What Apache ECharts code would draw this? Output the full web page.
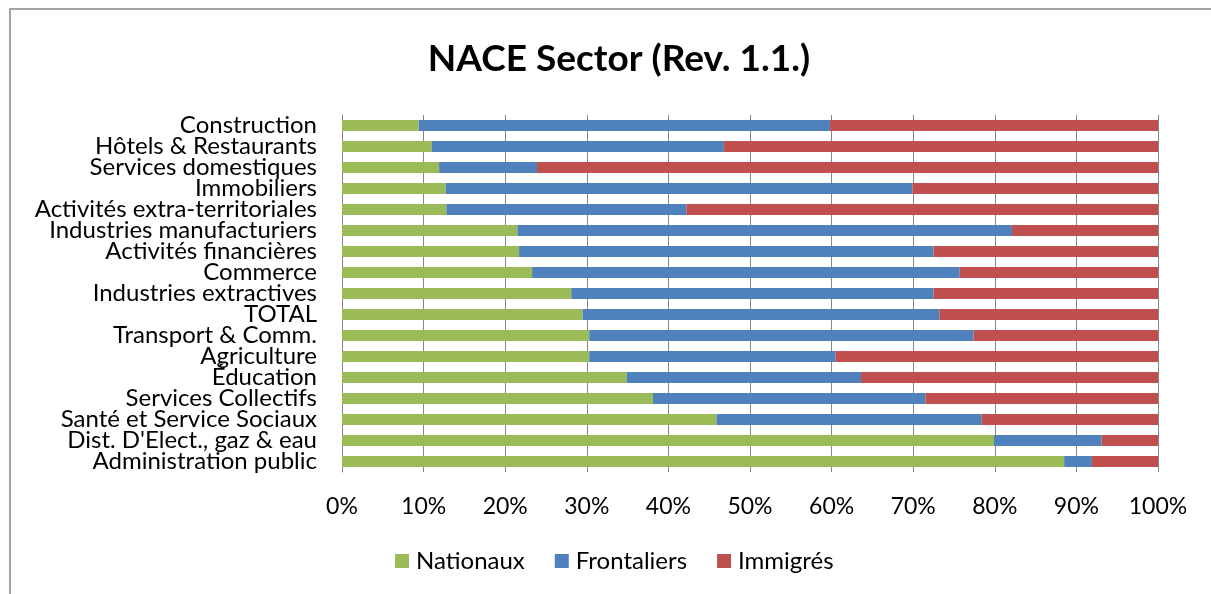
<!DOCTYPE html>
<html>
<head>
<meta charset="utf-8">
<script src="https://cdn.jsdelivr.net/npm/echarts@6/dist/echarts.min.js"></script>
<style>
  html, body { margin: 0; padding: 0; background: #fff; }
  #chart { width: 1211px; height: 594px; }
</style>
</head>
<body>
<div id="chart"></div>
<script>
// sectors, top to bottom
const sectors = [
  'Construction', 'Hôtels & Restaurants', 'Services domestiques', 'Immobiliers',
  'Activités extra-territoriales', 'Industries manufacturiers', 'Activités financières',
  'Commerce', 'Industries extractives', 'TOTAL', 'Transport & Comm.', 'Agriculture',
  'Éducation', 'Services Collectifs', 'Santé et Service Sociaux',
  'Dist. D\'Elect., gaz & eau', 'Administration public'
]
// shares in %
const nationaux = [9.4, 11.0, 11.9, 12.7, 12.8, 21.5, 21.7, 23.3, 28.1, 29.5, 30.3, 30.3, 34.9, 38.1, 45.9, 79.9, 88.5]
const frontaliers = [50.4, 35.8, 12.0, 57.2, 29.4, 60.6, 50.8, 52.4, 44.4, 43.7, 47.1, 30.2, 28.7, 33.4, 32.5, 13.2, 3.4]
const immigres = [40.2, 53.2, 76.1, 30.1, 57.8, 17.9, 27.5, 24.3, 27.5, 26.8, 22.6, 39.5, 36.4, 28.5, 21.6, 6.9, 8.1]

const FONT = 'Lato'
const GREY = '#868686'

const chart = echarts.init(document.getElementById('chart'))

const bar = (name, data, color) => ({
  name: name,
  type: 'bar',
  stack: 'share',
  data: data,
  barCategoryGap: '48%',
  itemStyle: { color: color },
  emphasis: { disabled: true }
})

const option = {
  animation: false,
  textStyle: { fontFamily: FONT },
  title: {
    text: 'NACE Sector (Rev. 1.1.)',
    left: 614,
    textAlign: 'center',
    top: 36,
    textStyle: { fontFamily: FONT, fontSize: 37, fontWeight: 'bold', color: '#000' }
  },
  graphic: [{
    type: 'rect',
    shape: { x: 10, y: 9, width: 1220, height: 600 },
    style: { fill: 'none', stroke: '#868686', lineWidth: 1.5 },
    silent: true
  }],
  legend: {
    left: 395,
    top: 549,
    padding: 0,
    itemWidth: 14,
    itemHeight: 14,
    itemGap: 30,
    icon: 'rect',
    textStyle: { fontFamily: FONT, fontSize: 24, color: '#000', padding: [0, 0, 0, 2] }
  },
  grid: {
    left: 342,
    right: 53,
    top: 115,
    height: 357
  },
  xAxis: {
    type: 'value',
    min: 0,
    max: 100,
    interval: 10,
    axisLine: { show: false },
    axisTick: { show: false },
    splitLine: { show: true, lineStyle: { color: GREY, width: 1 } },
    axisLabel: {
      formatter: '{value}%',
      fontFamily: FONT,
      fontSize: 23,
      color: '#000',
      margin: 23
    }
  },
  yAxis: {
    type: 'category',
    data: sectors,
    inverse: true,
    axisLine: { show: true, lineStyle: { color: GREY, width: 1 } },
    axisTick: { show: false },
    axisLabel: {
      fontFamily: FONT,
      fontSize: 24,
      lineHeight: 21,
      color: '#000',
      margin: 25,
      interval: 0
    }
  },
  series: [
    bar('Nationaux', nationaux, '#9BBB59'),
    bar('Frontaliers', frontaliers, '#4F81BD'),
    bar('Immigrés', immigres, '#C0504D')
  ]
}

chart.setOption(option)
</script>
</body>
</html>
